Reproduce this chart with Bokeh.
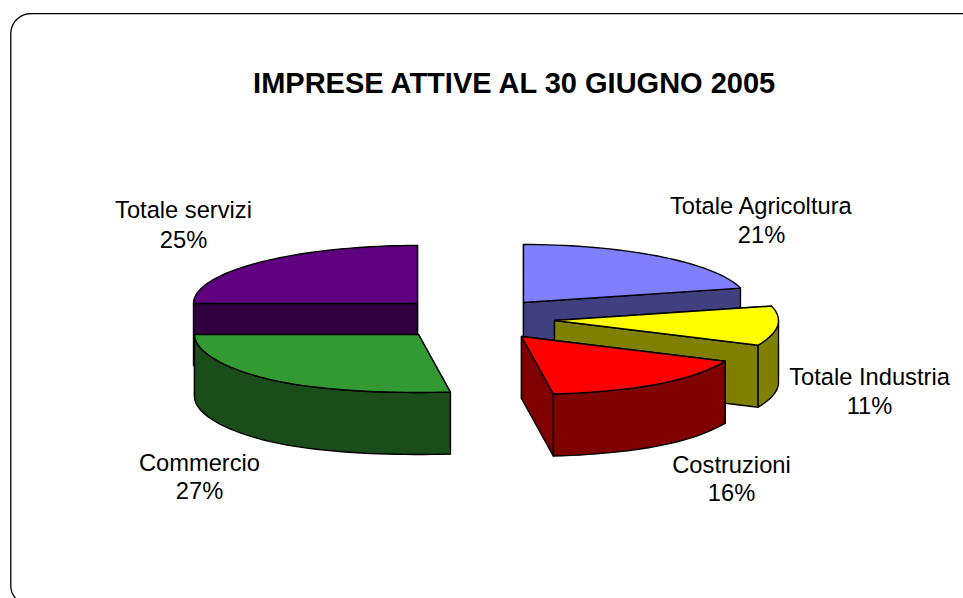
import math
from bokeh.plotting import figure
from bokeh.models import Range1d
from bokeh.core.properties import value
from bokeh.embed import file_html
from bokeh.resources import INLINE

# ---- data
title = "IMPRESE ATTIVE AL 30 GIUGNO 2005"
categories = ["Totale Agricoltura", "Totale Industria", "Costruzioni", "Commercio", "Totale servizi"]
percents = [21, 11, 16, 27, 25]

# ---- styles / layout (page-pixel coordinates, y downward)
top_colors = ["#8080FF", "#FFFF00", "#FF0000", "#339933", "#600080"]
wall_colors = ["#404080", "#808000", "#800000", "#1A4D1A", "#300040"]
apexes = [(523, 302), (554, 320), (521, 336), (418, 334), (417, 303)]
label_xy = [(761, 205, 234), (869, 376, 405), (731, 464, 492), (199, 462, 490), (183, 209, 239)]
RX, RY, DEPTH = 224, 58, 62
FRONT_WIDEN = 0.14  # perspective: the near side of each slice spreads wider
draw_order = [4, 0, 3, 1, 2]

W, H = 963, 598
p = figure(width=W, height=H, output_backend="svg", toolbar_location=None,
           x_range=Range1d(0, W), y_range=Range1d(H, 0),
           x_axis_type=None, y_axis_type=None, min_border=0,
           outline_line_color=None, background_fill_color="white",
           border_fill_color="white")
p.grid.visible = False

# rounded frame, running off the right and bottom of the page
fx, fy, fr, fb = 10.3, 13.2, 20, 605
tl = [(fx + fr - fr * math.sin(t * math.pi / 40), fy + fr - fr * math.cos(t * math.pi / 40)) for t in range(21)]
bl = [(fx + fr - fr * math.cos(t * math.pi / 40), fb - fr + fr * math.sin(t * math.pi / 40)) for t in range(21)]
frame = [(1000, fy)] + tl + bl
p.line([q[0] for q in frame], [q[1] for q in frame], line_color="black", line_width=1.3)

# cumulative clockwise angles from 12 o'clock
edges = [0.0]
for v in percents:
    edges.append(edges[-1] + v * 3.6)


def pt(ax, ay, deg):
    r = math.radians(deg)
    c = math.cos(r)
    widen = 1 + FRONT_WIDEN * c ** 4 if c < 0 else 1
    return ax + RX * math.sin(r) * widen, ay - RY * c


def arc(ax, ay, a0, a1):
    n = max(2, int(abs(a1 - a0) / 2))
    return [pt(ax, ay, a0 + (a1 - a0) * i / n) for i in range(n + 1)]


def poly(points, fill):
    p.patch([q[0] for q in points], [q[1] for q in points], fill_color=fill,
            line_color="black", line_width=1.4, line_join="round")


def drop(points):
    return [(q[0], q[1] + DEPTH) for q in points]


for i in draw_order:
    ax, ay = apexes[i]
    a0, a1 = edges[i], edges[i + 1]
    # straight cut walls
    for a in (a0, a1):
        e = pt(ax, ay, a)
        poly([(ax, ay), e, (e[0], e[1] + DEPTH), (ax, ay + DEPTH)], wall_colors[i])
    # front part of the rim
    lo, hi = max(a0, 90), min(a1, 270)
    if hi > lo:
        rim = arc(ax, ay, lo, hi)
        poly(rim + drop(rim)[::-1], wall_colors[i])
    # top face
    poly([(ax, ay)] + arc(ax, ay, a0, a1), top_colors[i])

# texts
font = value("Liberation Sans")
p.text([515], [82], text=[title], text_font=font, text_font_size="29px", text_font_style="bold",
       text_align="center", text_baseline="middle", text_color="black")
for i, name in enumerate(categories):
    x, y1, y2 = label_xy[i]
    p.text([x, x], [y1, y2], text=[name, f"{percents[i]}%"], text_font=font, text_font_size="23.7px",
           text_align="center", text_baseline="middle", text_color="black")

open("out.html", "w").write(file_html(p, INLINE))
